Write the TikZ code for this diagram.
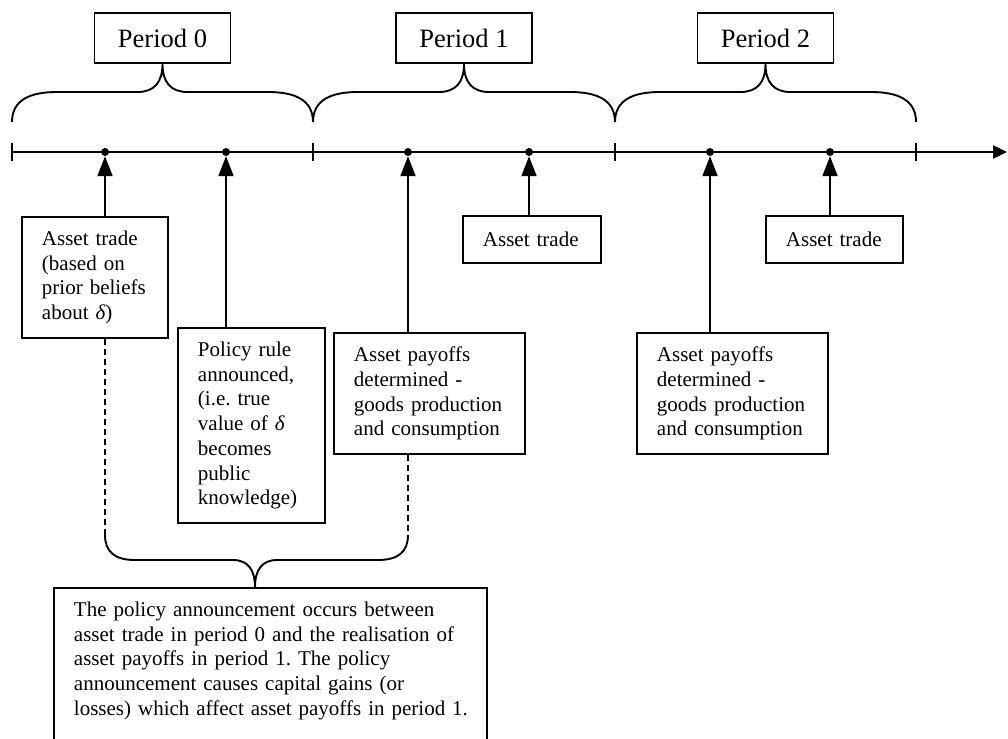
\documentclass[tikz,border=0pt]{standalone}
\usepackage{fontspec}
\setmainfont{Liberation Serif}
\usetikzlibrary{arrows.meta}
\frenchspacing

\begin{document}
\begin{tikzpicture}[x=1pt,y=-1pt,
  every node/.style={font=\fontsize{21}{24.7}\selectfont},
  period/.style={draw,line width=1.9pt,minimum width=136pt,minimum height=50pt,inner sep=0pt,font=\fontsize{26.5}{30}\selectfont},
  event/.style={draw,line width=1.9pt,anchor=north west,align=left,inner xsep=20pt,inner ysep=14pt},
  event dot/.style={circle,fill,inner sep=0pt,minimum size=8pt},
  toevent/.style={line width=1.9pt,-{Triangle[length=20pt,width=15pt]}},
  curly/.style={line width=1.9pt},
  link/.style={line width=1.9pt,dash pattern=on 6pt off 4pt},
  timeline/.style={line width=2.4pt,-{Triangle[length=14pt,width=13pt]}}]
\useasboundingbox (0,0) rectangle (1008,738);
\clip (0,0) rectangle (1008,738);
% periods
\node[period] (P0) at (162.5,38) {Period 0};
\node[period] (P1) at (464,38) {Period 1};
\node[period] (P2) at (765.5,38) {Period 2};
\draw[curly] (12,122) .. controls (12,100) and (30,92) .. (57,92) -- (137.5,92) .. controls (154.5,92) and (162.5,82) .. (P0.south)
  .. controls (162.5,82) and (170.5,92) .. (187.5,92) -- (268,92) .. controls (295,92) and (313,100) .. (313,122);
\draw[curly] (313,122) .. controls (313,100) and (331,92) .. (358,92) -- (439,92) .. controls (456,92) and (464,82) .. (P1.south)
  .. controls (464,82) and (472,92) .. (489,92) -- (570,92) .. controls (597,92) and (615,100) .. (615,122);
\draw[curly] (615,122) .. controls (615,100) and (633,92) .. (660,92) -- (740.5,92) .. controls (757.5,92) and (765.5,82) .. (P2.south)
  .. controls (765.5,82) and (773.5,92) .. (790.5,92) -- (871,92) .. controls (898,92) and (916,100) .. (916,122);
% time line
\coordinate (K0) at (12,152);
\coordinate (K1) at (313,152);
\coordinate (K2) at (615,152);
\coordinate (K3) at (916,152);
\coordinate (END) at (1007,152);
\draw[timeline] (K0) -- (END);
\draw[line width=1.9pt] (K0) ++(0,-9) -- ++(0,18);
\draw[line width=1.9pt] (K1) ++(0,-9) -- ++(0,18);
\draw[line width=1.9pt] (K2) ++(0,-9) -- ++(0,18);
\draw[line width=1.9pt] (K3) ++(0,-9) -- ++(0,18);
\node[event dot] (D0a) at (105,152) {};
\node[event dot] (D0b) at (226,152) {};
\node[event dot] (D1a) at (408,152) {};
\node[event dot] (D1b) at (529,152) {};
\node[event dot] (D2a) at (710,152) {};
\node[event dot] (D2b) at (830,152) {};
% events
\node[event,text width=106pt] (TRADEA) at (21,216) {Asset trade\\(based on\\prior beliefs\\about {\itshape δ})};
\node[event,text width=107pt] (POLICY) at (177,327) {Policy rule\\announced,\\(i.e. true\\value of {\itshape δ}\\becomes\\public\\knowledge)};
\node[event,text width=151pt] (PAYA) at (333,332) {Asset payoffs\\determined -\\goods production\\and consumption};
\node[event,text width=98pt,minimum height=47pt] (TRADEB) at (462,215) {Asset trade};
\node[event,text width=151pt] (PAYB) at (636,332) {Asset payoffs\\determined -\\goods production\\and consumption};
\node[event,text width=97pt,minimum height=47pt] (TRADEC) at (765,215) {Asset trade};
\draw[toevent] (TRADEA.north -| D0a) -- (D0a);
\draw[toevent] (POLICY.north -| D0b) -- (D0b);
\draw[toevent] (PAYA.north -| D1a) -- (D1a);
\draw[toevent] (TRADEB.north -| D1b) -- (D1b);
\draw[toevent] (PAYB.north -| D2a) -- (D2a);
\draw[toevent] (TRADEC.north -| D2b) -- (D2b);
% announcement window
\coordinate (BL) at (105,535);
\coordinate (BR) at (408,535);
\node[event,text width=393pt] (NOTE) at (53,587) {\mbox{The policy announcement occurs between}\\\mbox{asset trade in period 0 and the realisation of}\\\mbox{asset payoffs in period 1. The policy}\\\mbox{announcement causes capital gains (or}\\\mbox{losses) which affect asset payoffs in period 1.}\\ \mbox{}};
\draw[link] (TRADEA.south -| D0a) -- (BL);
\draw[link] (PAYA.south -| D1a) -- (BR);
\draw[curly] (BL) .. controls (105,552) and (115,560) .. (135,560) -- (233,560) .. controls (248,560) and (255,570) .. (255,587)
  .. controls (255,570) and (262,560) .. (277,560) -- (378,560) .. controls (398,560) and (408,552) .. (BR);
\end{tikzpicture}
\end{document}
